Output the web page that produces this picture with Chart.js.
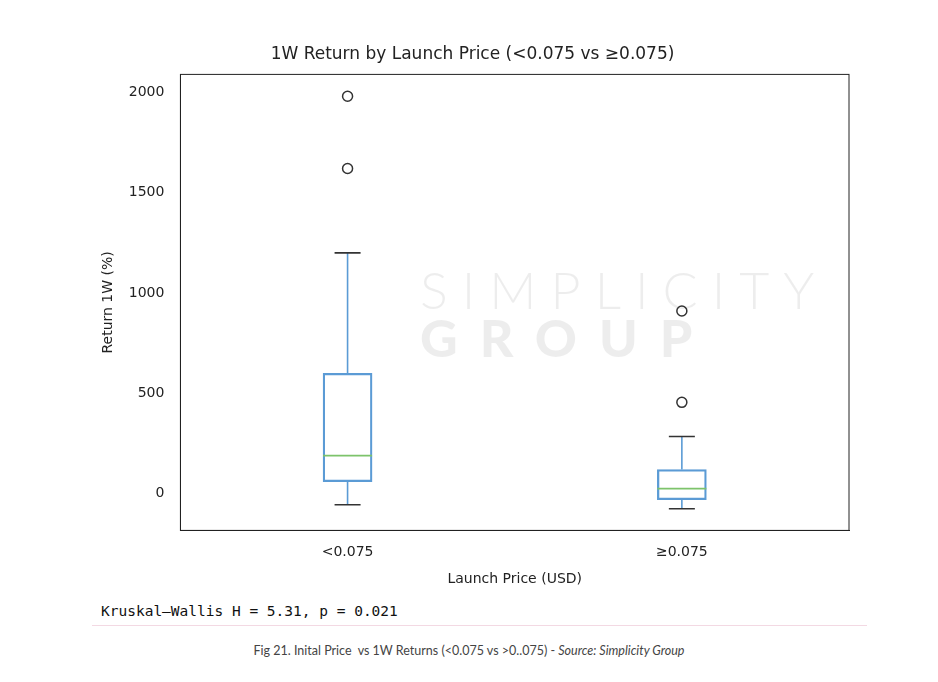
<!DOCTYPE html>
<html><head><meta charset="utf-8">
<script src="https://cdn.jsdelivr.net/npm/chart.js@4"></script>
<style>
body{margin:0;background:#fff;width:938px;height:682px;position:relative;font-family:"DejaVu Sans";}
#wrap{position:absolute;left:90px;top:30px;width:780px;height:562px;}
#stat{position:absolute;left:101px;top:603px;font-family:"DejaVu Sans Mono";font-size:14.5px;color:#111;}
#line{position:absolute;left:92px;top:625px;width:775px;border-top:1px solid #f3d9e3;}
#cap{position:absolute;left:0;width:938px;top:643px;text-align:center;font-family:Lato;font-size:12.5px;color:#444;}
#wm{position:absolute;left:420px;top:258px;font-family:Lato;color:rgba(0,0,0,0.07);}
</style></head><body>
<div id="wrap"><canvas id="c"></canvas></div>
<div id="wm"><div style="font-size:52px;letter-spacing:14px;font-weight:300">SIMPLICITY</div><div style="font-size:52px;letter-spacing:22px;font-weight:900;margin-top:-14px">GROUP</div></div>
<div id="stat">Kruskal–Wallis H = 5.31, p = 0.021</div>
<div id="line"></div>
<div id="cap">Fig 21. Inital Price &nbsp;vs 1W Returns (&lt;0.075 vs &gt;0..075) - <i>Source: Simplicity Group</i></div>
<script>
const categories=["<0.075","≥0.075"];
const q1=[60,-30];
const median=[190,25];
const q3=[600,120];
const whiskerLow=[-55,-75];
const whiskerHigh=[1200,285];
const outliers=[[1980,1620],[910,455]];
const yTicks=[0,500,1000,1500,2000];

const outlierPts=[];
outliers.forEach((arr,i)=>arr.forEach(v=>outlierPts.push({x:categories[i],y:v})));

const boxPlugin={id:'box',afterDatasetsDraw(ch){
  const ctx=ch.ctx,x=ch.scales.x,y=ch.scales.y;
  categories.forEach((c,i)=>{
    const cx=x.getPixelForValue(i);
    const half=24.5,cap=13;
    ctx.save();
    ctx.lineWidth=1.6;ctx.strokeStyle='#5b9bd5';
    ctx.beginPath();
    ctx.moveTo(cx,y.getPixelForValue(q3[i]));ctx.lineTo(cx,y.getPixelForValue(whiskerHigh[i]));
    ctx.moveTo(cx,y.getPixelForValue(q1[i]));ctx.lineTo(cx,y.getPixelForValue(whiskerLow[i]));
    ctx.stroke();
    ctx.strokeStyle='#333';
    ctx.beginPath();
    [whiskerHigh[i],whiskerLow[i]].forEach(v=>{const p=y.getPixelForValue(v);ctx.moveTo(cx-cap,p);ctx.lineTo(cx+cap,p);});
    ctx.stroke();
    ctx.strokeStyle='#7dc36b';ctx.lineWidth=1.8;
    ctx.beginPath();const m=y.getPixelForValue(median[i]);ctx.moveTo(cx-half,m);ctx.lineTo(cx+half,m);ctx.stroke();
    ctx.restore();
  });
}};
const frame={id:'frame',afterDraw(ch){const a=ch.chartArea,ctx=ch.ctx;ctx.save();ctx.strokeStyle='#222';ctx.lineWidth=1;ctx.strokeRect(a.left,a.top,a.right-a.left,a.bottom-a.top);ctx.restore();}};

new Chart(document.getElementById('c'),{
  data:{labels:categories,datasets:[
    {type:'bar',data:categories.map((c,i)=>[q1[i],q3[i]]),backgroundColor:'rgba(0,0,0,0)',borderColor:'#5b9bd5',borderWidth:1.6,borderSkipped:false,barThickness:49},
    {type:'scatter',data:outlierPts,pointRadius:5,pointBorderWidth:1.5,pointBorderColor:'#333',pointBackgroundColor:'rgba(0,0,0,0)'}
  ]},
  options:{responsive:true,maintainAspectRatio:false,animation:false,
    layout:{padding:{right:21,left:6}},
    plugins:{legend:{display:false},tooltip:{enabled:false},
      title:{display:true,text:'1W Return by Launch Price (<0.075 vs ≥0.075)',color:'#222',font:{family:'DejaVu Sans',size:17,weight:'normal'},padding:{top:14,bottom:10}}},
    scales:{
      x:{type:'category',labels:categories,offset:true,grid:{display:false},border:{color:'#222'},
        ticks:{color:'#222',padding:6,font:{family:'DejaVu Sans',size:14}},
        title:{display:true,text:'Launch Price (USD)',color:'#222',font:{family:'DejaVu Sans',size:14}}},
      y:{min:-183,max:2089,grid:{display:false},border:{color:'#222'},
        afterBuildTicks:s=>{s.ticks=yTicks.map(v=>({value:v}));},
        ticks:{color:'#222',padding:8,font:{family:'DejaVu Sans',size:14},callback:v=>String(v)},
        title:{display:true,text:'Return 1W (%)',color:'#222',font:{family:'DejaVu Sans',size:14}}}
    }},
  plugins:[boxPlugin,frame]
});
</script></body></html>
